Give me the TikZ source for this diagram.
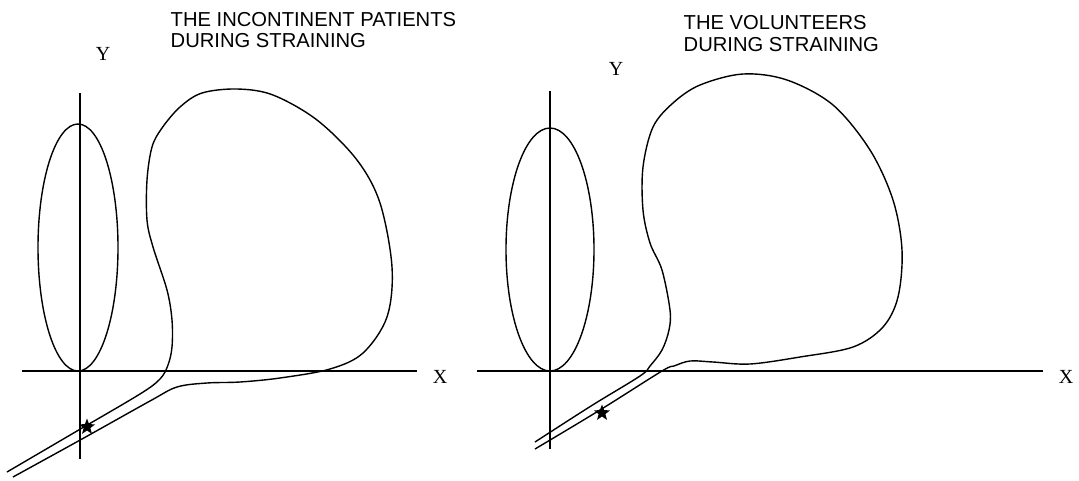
\documentclass[tikz,border=0pt]{standalone}
\usepackage{fontspec}
\setmainfont{Liberation Serif}
\newfontfamily\headfont{Liberation Sans}
\usetikzlibrary{shapes.geometric}

\begin{document}
\begin{tikzpicture}[x=1pt,y=-1pt,line width=1.4pt,
   axlabel/.style={font=\fontsize{20}{20}\selectfont,inner sep=0pt},
   heading/.style={font=\headfont\fontsize{20.2}{21.5}\selectfont,align=left,anchor=north west,inner sep=0pt},
   starmark/.style={star,star points=5,star point ratio=2.4,fill=black,draw=none,minimum size=17pt,inner sep=0pt},
   tube/.style={smooth,tension=0.55}]
 \useasboundingbox (0,0) rectangle (1079,480);
 % incontinent patients
 \coordinate (yLtop) at (80,93);
 \coordinate (yLbot) at (80,459);
 \coordinate (xLlft) at (22,371);
 \coordinate (xLrgt) at (417,371);
 \draw (yLtop) -- (yLbot);
 \draw (xLlft) -- (xLrgt);
 \node[axlabel] (yL) at (103,54) {Y};
 \node[axlabel] (xL) at (440,377) {X};
 \draw (78,247.5) ellipse [x radius=40pt,y radius=123.5pt];
 \draw plot[tube] coordinates {(7,472) (77,431) (140,394) (160,379) (168,365) (172,347)
   (172,320) (167,290) (153,247) (147,220) (147,180) (152,147) (162,128) (180,107)
   (202,93) (237,89) (273,95) (317,120) (357,160) (380,203) (392,267) (387,317)
   (363,353) (330,369) (280,378) (240,382) (207,383) (177,387) (150,401) (82,439) (13,477)};
 \node[starmark] (starL) at (87,427) {};
 \node[heading] (headL) at (170,11.5) {THE INCONTINENT PATIENTS\\DURING STRAINING};
 % volunteers
 \coordinate (yRtop) at (550,91);
 \coordinate (yRbot) at (550,449);
 \coordinate (xRlft) at (477,371);
 \coordinate (xRrgt) at (1043,371);
 \draw (yRtop) -- (yRbot);
 \draw (xRlft) -- (xRrgt);
 \node[axlabel] (yR) at (616,69) {Y};
 \node[axlabel] (xR) at (1066,377) {X};
 \draw (550,249.5) ellipse [x radius=44pt,y radius=121.5pt];
 \draw plot[tube] coordinates {(535,442) (591,406) (640,376) (650,366) (662,350) (669,330)
   (670,310) (662,270) (650,243) (643,210) (643,167) (653,127) (673,103) (700,85)
   (743,74) (787,80) (833,105) (870,150) (893,200) (902,250) (898,297) (883,327)
   (853,347) (800,357) (750,364) (713,362) (690,361) (674,366) (662,371) (600,410) (535,449)};
 \node[starmark] (starR) at (602,413) {};
 \node[heading] (headR) at (683,15) {THE VOLUNTEERS\\DURING STRAINING};
\end{tikzpicture}
\end{document}
